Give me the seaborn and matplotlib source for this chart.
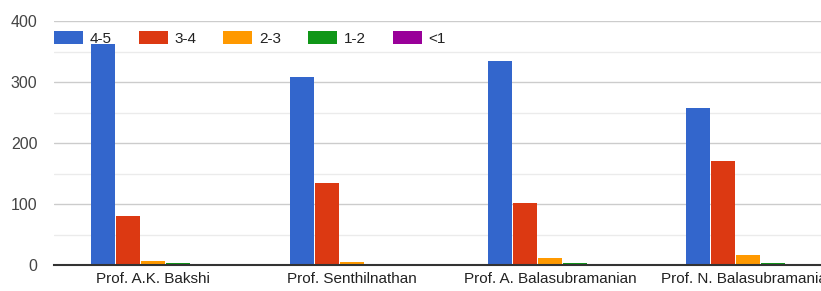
import pandas as pd
import numpy as np
import matplotlib
matplotlib.use("Agg")
import matplotlib.pyplot as plt
import seaborn as sns

# ── Data ───────────────────────────────────────────────
professors = ["Prof. A.K. Bakshi", "Prof. Senthilnathan",
              "Prof. A. Balasubramanian", "Prof. N. Balasubramanian"]
ranges = ["4-5", "3-4", "2-3", "1-2", "<1"]
r45 = [362, 308, 334, 257]
r34 = [80, 134, 102, 170]
r23 = [6, 5, 11, 16]
r12 = [3, 0, 3, 3]
r1 = [2, 2, 2, 1]

colors = ["#3366CC", "#DC3912", "#FF9900", "#109618", "#990099"]

df = pd.DataFrame({"prof": professors, "4-5": r45, "3-4": r34,
                   "2-3": r23, "1-2": r12, "<1": r1})
long = df.melt(id_vars="prof", var_name="range", value_name="count")

sns.set_theme(style="white")
plt.rcParams["font.family"] = ["Liberation Sans", "DejaVu Sans"]

W, H = 821, 291
fig = plt.figure(figsize=(W / 100, H / 100), dpi=100)
ax = fig.add_axes([54 / W, 26 / H, (W - 54) / W, 244 / H])

sns.barplot(data=long, x="prof", y="count", hue="range", hue_order=ranges,
            order=professors, palette=colors, width=0.63, gap=0.04, ax=ax,
            linewidth=0, saturation=1)

# ── Axes styling ───────────────────────────────────────
ax.set_ylim(0, 400)
ax.set_xlim(-0.5, 3.5 - 26.5 / 198)
ax.set_yticks([0, 100, 200, 300, 400])
ax.set_yticks([50, 150, 250, 350], minor=True)
ax.grid(axis="y", which="major", color="#cccccc", linewidth=1)
ax.grid(axis="y", which="minor", color="#ebebeb", linewidth=1)
ax.set_axisbelow(True)
for s in ["top", "right", "left"]:
    ax.spines[s].set_visible(False)
ax.spines["bottom"].set_color("#333333")
ax.spines["bottom"].set_linewidth(1.5)
ax.tick_params(axis="y", length=0, pad=12, labelsize=11.5, labelcolor="#444444")
ax.tick_params(axis="x", length=0, pad=5, labelsize=11, labelcolor="#222222")
ax.set_xlabel("")
ax.set_ylabel("")

ax.legend(loc="upper left", bbox_to_anchor=(-0.008, 0.985), ncol=5,
          frameon=False, fontsize=11, handlelength=1.9, handleheight=1.0,
          handletextpad=0.45, columnspacing=1.75, borderaxespad=0,
          labelcolor="#222222")

plt.savefig("out.png", dpi=100)
